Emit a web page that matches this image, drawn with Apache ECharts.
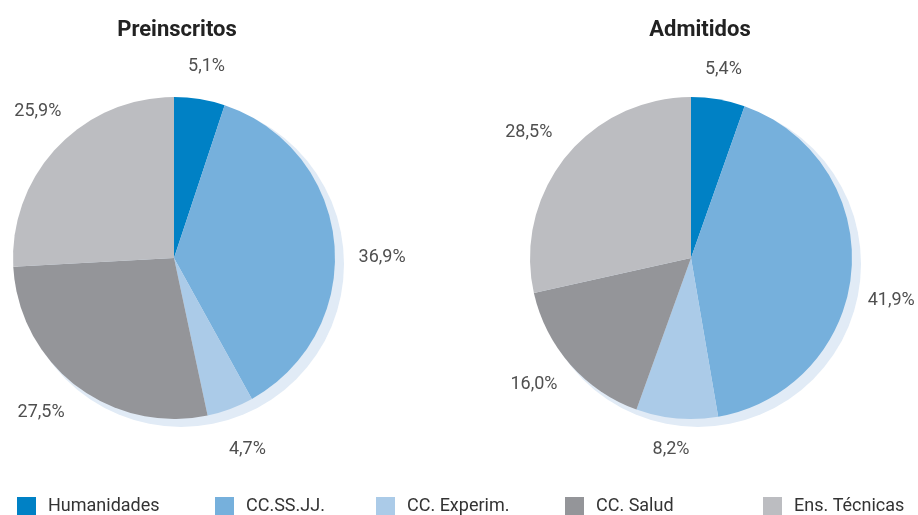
<!DOCTYPE html>
<html>
<head>
<meta charset="utf-8">
<script src="https://cdn.jsdelivr.net/npm/echarts@6/dist/echarts.min.js"></script>
<style>
  html, body { margin: 0; padding: 0; background: #fff; }
  #main { width: 918px; height: 515px; }
</style>
</head>
<body>
<div id="main"></div>
<script>
// areas
const categories = ['Humanidades', 'CC.SS.JJ.', 'CC. Experim.', 'CC. Salud', 'Ens. Técnicas'];
const preinscritos = [5.1, 36.9, 4.7, 27.5, 25.9];
const admitidos = [5.4, 41.9, 8.2, 16.0, 28.5];
const titles = ['Preinscritos', 'Admitidos'];

const colors = ['#0081c5', '#76b0dc', '#abcbe8', '#949599', '#bcbdc1'];
const FONT = 'Roboto, "DejaVu Sans", sans-serif';

const pieCenters = [[174, 258], [691, 258]];
const legendX = [17, 215, 376, 565, 763];
// small nudges so the percentages sit where the original put them
const labelNudge = [
    [[0, 10], [5, 18], [2, 0], [-9, -8], [12, -6]],
    [[-2, 13], [-3, 25], [-2, -12], [-4, -8], [-3, 2]]
];

function fmt(v) {
    return v.toFixed(1).replace('.', ',') + '%';
}

function toData(values) {
    return values.map((v, i) => ({ name: categories[i], value: v }));
}

function buildSeries(values, idx) {
    let c = pieCenters[idx];
    return [
        // soft blue circle behind the pie
        {
            type: 'pie',
            silent: true,
            z: 1,
            center: [c[0] + 7, c[1] + 6],
            radius: 163,
            label: { show: false },
            labelLine: { show: false },
            itemStyle: { color: '#e1ebf6' },
            data: [{ name: '_shadow', value: 1 }],
            animation: false
        },
        {
            name: titles[idx],
            type: 'pie',
            z: 2,
            center: c,
            radius: 161,
            startAngle: 90,
            clockwise: true,
            label: { show: false },
            labelLine: { show: false },
            itemStyle: { borderWidth: 0 },
            emphasis: { disabled: true },
            data: toData(values),
            animation: false
        },
        // invisible ring just for placing the percentage labels
        {
            type: 'pie',
            silent: true,
            z: 3,
            center: c,
            radius: [190, 212],
            startAngle: 90,
            itemStyle: { color: 'rgba(0,0,0,0)' },
            labelLine: { show: false },
            data: values.map((v, i) => ({
                name: categories[i],
                value: v,
                label: {
                    show: true,
                    position: 'inside',
                    offset: labelNudge[idx][i],
                    fontFamily: FONT,
                    fontSize: 18,
                    color: '#4f4f4f',
                    formatter: (p) => fmt(p.value)
                }
            })),
            animation: false
        }
    ];
}

let myChart = echarts.init(document.getElementById('main'));

let option = {
    backgroundColor: '#fff',
    color: colors,
    title: [
        {
            text: titles[0], left: 172, top: 14, textAlign: 'center',
            textStyle: { fontFamily: FONT, fontSize: 22, fontWeight: 'bold', color: '#222' }
        },
        {
            text: titles[1], left: 695, top: 14, textAlign: 'center',
            textStyle: { fontFamily: FONT, fontSize: 22, fontWeight: 'bold', color: '#222' }
        }
    ],
    legend: categories.map((name, i) => ({
        data: [name],
        left: legendX[i],
        top: 497,
        padding: 0,
        icon: 'rect',
        itemWidth: 19,
        itemHeight: 18,
        itemGap: 0,
        selectedMode: false,
        textStyle: { fontFamily: FONT, fontSize: 18, color: '#333', padding: [0, 0, 0, 7] }
    })),
    series: [].concat(buildSeries(preinscritos, 0), buildSeries(admitidos, 1))
};

myChart.setOption(option);
</script>
</body>
</html>
